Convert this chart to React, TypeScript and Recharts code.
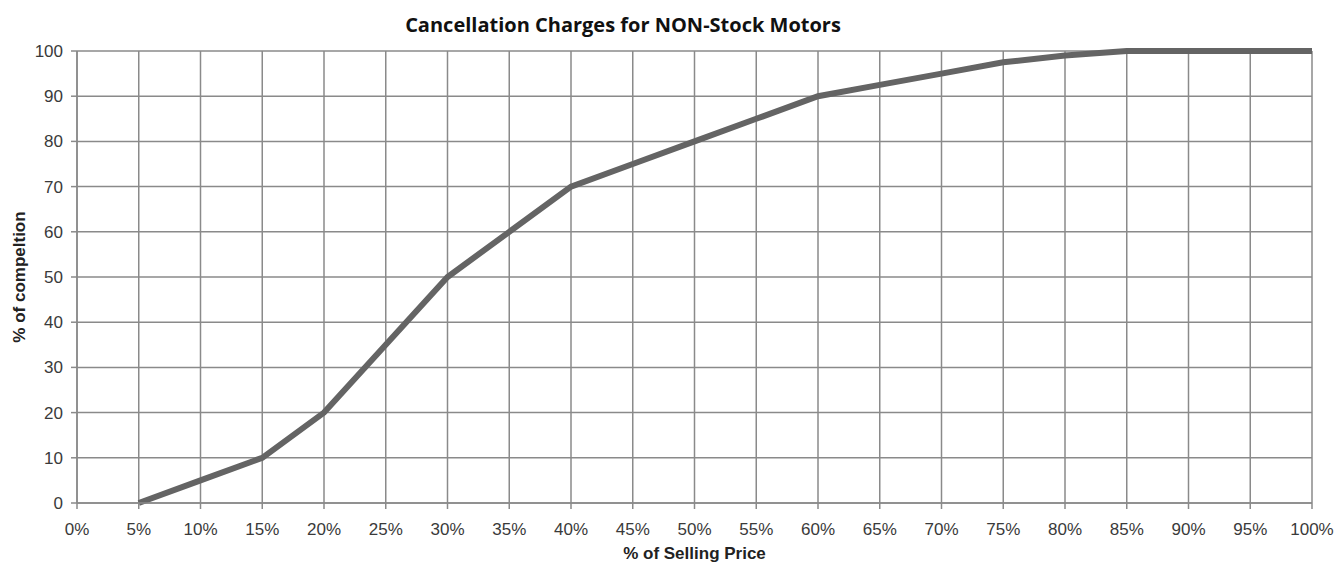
import { LineChart, Line, XAxis, YAxis, CartesianGrid } from 'recharts';

// % of selling price (x) vs % of completion (y)
const sellingPct = [5, 10, 15, 20, 25, 30, 35, 40, 45, 50, 55, 60, 65, 70, 75, 80, 85, 90, 95, 100];
const completion = [0, 5, 10, 20, 35, 50, 60, 70, 75, 80, 85, 90, 92.5, 95, 97.5, 99, 100, 100, 100, 100];

const xTicks = [0, 5, 10, 15, 20, 25, 30, 35, 40, 45, 50, 55, 60, 65, 70, 75, 80, 85, 90, 95, 100];
const yTicks = [0, 10, 20, 30, 40, 50, 60, 70, 80, 90, 100];

const data = sellingPct.map((x, i) => ({ x, y: completion[i] }));

const GRID = '#8a8a8a';
const FONT = 'Liberation Sans, Arial, sans-serif';
const TICK = { fontFamily: FONT, fontSize: 17, fill: '#3a3a3a' };
const AXIS_LABEL = { fontFamily: FONT, fontSize: 17, fontWeight: 700, fill: '#222' };

export default function App() {
  return (
    <div style={{ position: 'absolute', left: 0, top: 0, width: 1336, height: 565, background: '#fff' }}>
      <div
        style={{
          position: 'absolute',
          top: 11,
          left: 0,
          width: 1246,
          textAlign: 'center',
          fontFamily: 'Open Sans, sans-serif',
          fontWeight: 700,
          fontSize: 20,
          color: '#111',
        }}
      >
        Cancellation Charges for NON-Stock Motors
      </div>
      <LineChart width={1336} height={565} data={data} margin={{ top: 51, right: 24, left: 0, bottom: 0 }}>
        <CartesianGrid stroke={GRID} strokeWidth={1.5} />
        <XAxis
          type="number"
          dataKey="x"
          domain={[0, 100]}
          ticks={xTicks}
          interval={0}
          tickFormatter={(v) => `${v}%`}
          height={62}
          tickSize={6}
          tickMargin={14}
          stroke={GRID}
          strokeWidth={1.5}
          tick={TICK}
          label={{ value: '% of Selling Price', position: 'insideBottom', offset: 6, style: AXIS_LABEL }}
        />
        <YAxis
          type="number"
          domain={[0, 100]}
          ticks={yTicks}
          interval={0}
          width={77}
          tickSize={6}
          tickMargin={8}
          stroke={GRID}
          strokeWidth={1.5}
          tick={TICK}
          label={{
            value: '% of compeltion',
            angle: -90,
            position: 'insideLeft',
            offset: 19,
            style: { ...AXIS_LABEL, textAnchor: 'middle' },
          }}
        />
        <Line
          type="linear"
          dataKey="y"
          stroke="#646464"
          strokeWidth={6}
          dot={false}
          isAnimationActive={false}
        />
      </LineChart>
    </div>
  );
}
